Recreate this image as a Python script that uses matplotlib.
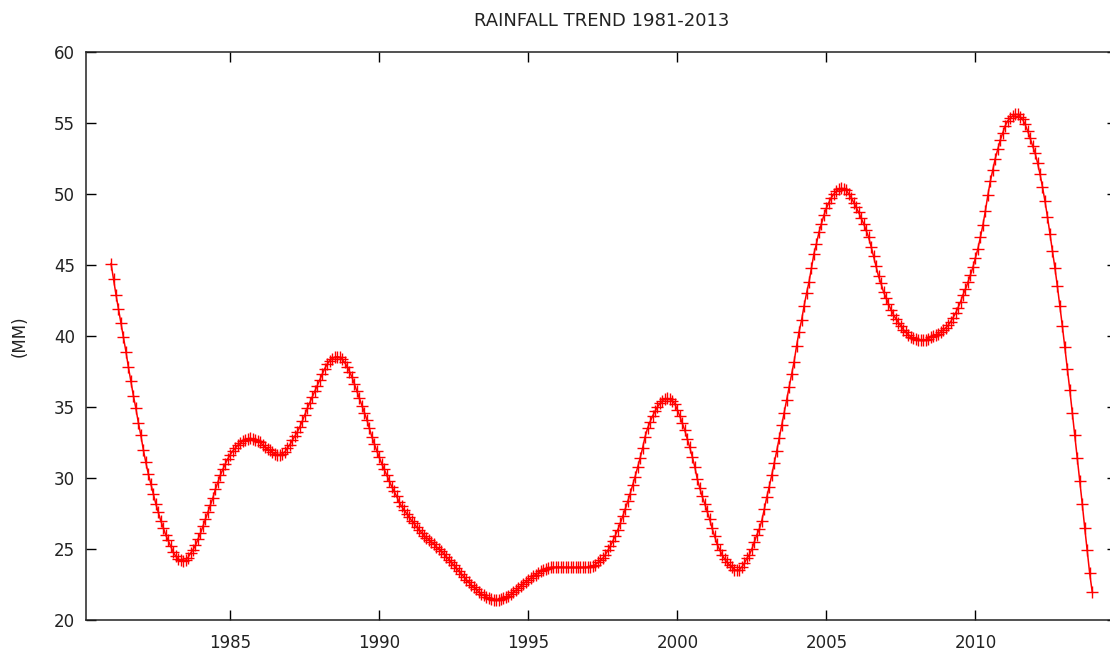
import numpy as np
from matplotlib import pyplot as plt

# monthly rainfall (mm), Jan 1981 .. Dec 2013
start_year = 1981
rain_mm = [
    45.1, 44.0, 42.9, 41.9, 40.9, 39.9, 38.9, 37.8, 36.8, 35.8, 34.9, 33.9,      # 1981
    33.0, 32.0, 31.1, 30.3, 29.6, 28.9, 28.2, 27.6, 27.0, 26.5, 26.0, 25.6,      # 1982
    25.2, 24.8, 24.5, 24.3, 24.2, 24.15, 24.2, 24.4, 24.7, 24.95, 25.25, 25.7,   # 1983
    26.1, 26.6, 27.1, 27.6, 28.1, 28.6, 29.2, 29.7, 30.2, 30.6, 31.0, 31.35,     # 1984
    31.65, 31.9, 32.1, 32.3, 32.45, 32.6, 32.7, 32.75, 32.8, 32.75, 32.65, 32.6, # 1985
    32.5, 32.35, 32.2, 32.05, 31.95, 31.8, 31.7, 31.65, 31.65, 31.7, 31.85, 32.1, # 1986
    32.35, 32.65, 32.95, 33.25, 33.6, 34.0, 34.45, 34.9, 35.3, 35.7, 36.1, 36.5, # 1987
    36.9, 37.3, 37.7, 38.0, 38.25, 38.4, 38.5, 38.55, 38.5, 38.35, 38.15, 37.85, # 1988
    37.5, 37.1, 36.6, 36.1, 35.6, 35.1, 34.6, 34.1, 33.5, 32.9, 32.4, 31.9,      # 1989
    31.45, 31.0, 30.6, 30.2, 29.8, 29.4, 29.05, 28.7, 28.3, 28.0, 27.75, 27.5,   # 1990
    27.25, 27.0, 26.8, 26.55, 26.35, 26.15, 25.95, 25.8, 25.65, 25.5, 25.35, 25.15, # 1991
    25.0, 24.85, 24.65, 24.45, 24.25, 24.05, 23.85, 23.65, 23.45, 23.25, 23.05, 22.85, # 1992
    22.65, 22.45, 22.3, 22.15, 22.0, 21.85, 21.75, 21.65, 21.55, 21.48, 21.43, 21.4, # 1993
    21.4, 21.45, 21.52, 21.6, 21.7, 21.82, 21.95, 22.1, 22.25, 22.4, 22.55, 22.7, # 1994
    22.8, 22.95, 23.1, 23.2, 23.3, 23.42, 23.52, 23.6, 23.66, 23.7, 23.72, 23.72, # 1995
    23.72, 23.72, 23.71, 23.71, 23.7, 23.7, 23.7, 23.7, 23.7, 23.7, 23.7, 23.71, # 1996
    23.72, 23.75, 23.8, 23.9, 24.05, 24.2, 24.35, 24.6, 24.9, 25.2, 25.55, 25.95, # 1997
    26.35, 26.8, 27.3, 27.8, 28.35, 28.9, 29.5, 30.1, 30.75, 31.4, 32.1, 32.9,   # 1998
    33.5, 33.95, 34.35, 34.7, 35.0, 35.25, 35.45, 35.55, 35.6, 35.55, 35.45, 35.2, # 1999
    34.8, 34.35, 33.85, 33.35, 32.75, 32.15, 31.5, 30.8, 29.95, 29.3, 28.7, 28.2, # 2000
    27.65, 27.1, 26.45, 25.9, 25.35, 24.95, 24.6, 24.3, 24.05, 23.88, 23.7, 23.55, # 2001
    23.5, 23.55, 23.75, 24.0, 24.35, 24.6, 25.0, 25.5, 26.0, 26.4, 27.0, 27.8,   # 2002
    28.65, 29.4, 30.2, 31.05, 31.9, 32.8, 33.7, 34.6, 35.5, 36.4, 37.3, 38.2,    # 2003
    39.3, 40.3, 41.1, 42.1, 43.0, 43.8, 44.8, 45.8, 46.5, 47.3, 47.9, 48.5,      # 2004
    49.0, 49.4, 49.75, 50.0, 50.2, 50.32, 50.4, 50.38, 50.25, 50.0, 49.75, 49.4, # 2005
    49.05, 48.7, 48.3, 47.9, 47.45, 46.95, 46.3, 45.6, 44.9, 44.2, 43.7, 43.1,   # 2006
    42.7, 42.25, 41.85, 41.5, 41.2, 40.95, 40.7, 40.45, 40.25, 40.1, 39.95, 39.85, # 2007
    39.78, 39.72, 39.7, 39.7, 39.75, 39.82, 39.9, 39.97, 40.05, 40.15, 40.28, 40.42, # 2008
    40.57, 40.75, 41.0, 41.3, 41.6, 42.0, 42.4, 42.9, 43.3, 43.8, 44.3, 44.85,   # 2009
    45.5, 46.15, 46.95, 47.8, 48.8, 49.9, 50.9, 51.7, 52.5, 53.15, 53.8, 54.3,   # 2010
    54.8, 55.15, 55.35, 55.5, 55.6, 55.6, 55.45, 55.25, 54.9, 54.45, 53.95, 53.4, # 2011
    52.9, 52.2, 51.4, 50.5, 49.5, 48.4, 47.2, 46.0, 44.8, 43.5, 42.1, 40.7,      # 2012
    39.2, 37.7, 36.2, 34.6, 33.0, 31.4, 29.8, 28.2, 26.5, 24.9, 23.3, 22.0,      # 2013
]
year_ticks = [1985, 1990, 1995, 2000, 2005, 2010]
mm_ticks = [20, 25, 30, 35, 40, 45, 50, 55, 60]

years = start_year + np.arange(len(rain_mm)) / 12.0

fig = plt.figure(figsize=(11.10, 6.56), dpi=100)
ax = fig.add_axes([86 / 1110, 1 - 620 / 656, 1031 / 1110, 568 / 656])

ax.plot(years, rain_mm, color='red', linewidth=1.1, marker='+',
        markersize=8, markeredgewidth=1.0)

ax.set_xlim(1980.16, 2014.75)
ax.set_ylim(20, 60)
ax.set_xticks(year_ticks)
ax.set_yticks(mm_ticks)
ax.tick_params(direction='in', length=7, width=1, top=True, right=True,
               labelsize=12, colors='black', labelcolor='#222222')
ax.tick_params(axis='x', pad=10)
ax.tick_params(axis='y', pad=8)
for s in ax.spines.values():
    s.set_linewidth(1.1)
    s.set_color('#222222')

ax.set_title('RAINFALL TREND 1981-2013', fontsize=13, pad=19, color='#222222')
ax.set_ylabel('(MM)', fontsize=12, color='#222222')
ax.yaxis.set_label_coords(-0.056, 0.5)

fig.savefig('out.png', dpi=100)
